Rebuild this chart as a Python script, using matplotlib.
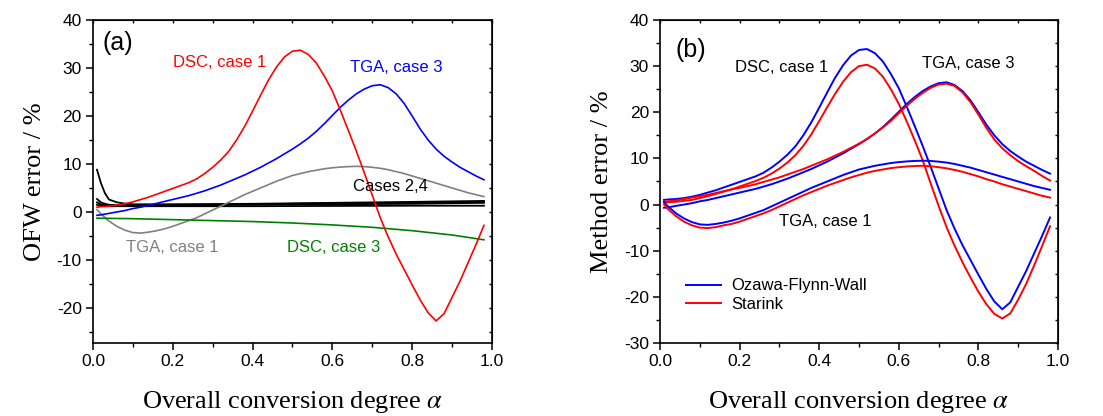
import numpy as np
import matplotlib
matplotlib.use("Agg")
import matplotlib.pyplot as plt
from matplotlib.ticker import MultipleLocator

plt.rcParams['font.family'] = ['Liberation Sans', 'DejaVu Sans']
plt.rcParams['mathtext.fontset'] = 'stix'
plt.rcParams['axes.unicode_minus'] = False

# conversion degree grid
alpha = [0.01, 0.02, 0.04, 0.06, 0.08, 0.10, 0.12, 0.14, 0.16, 0.18,
         0.20, 0.22, 0.24, 0.26, 0.28, 0.30, 0.32, 0.34, 0.36, 0.38,
         0.40, 0.42, 0.44, 0.46, 0.48, 0.50, 0.52, 0.54, 0.56, 0.58,
         0.60, 0.62, 0.64, 0.66, 0.68, 0.70, 0.72, 0.74, 0.76, 0.78,
         0.80, 0.82, 0.84, 0.86, 0.88, 0.90, 0.92, 0.94, 0.96, 0.98]

# Ozawa-Flynn-Wall errors (%)
ofw_dsc1 = [1.0, 1.1, 1.2, 1.4, 1.7, 2.1, 2.6, 3.1, 3.7, 4.3,
            4.9, 5.5, 6.1, 6.9, 8.0, 9.3, 10.8, 12.6, 15.0, 17.8,
            21.0, 24.3, 27.5, 30.2, 32.3, 33.5, 33.7, 32.8, 31.0, 28.3,
            25.2, 21.2, 17.0, 12.7, 8.2, 3.5, -1.2, -5.2, -8.8, -12.0,
            -15.2, -18.3, -21.0, -22.7, -21.2, -17.8, -14.4, -10.6, -6.8, -2.8]
ofw_tga3 = [-0.7, -0.6, -0.3, 0.0, 0.3, 0.7, 1.0, 1.4, 1.8, 2.2,
            2.6, 3.0, 3.4, 3.9, 4.4, 5.0, 5.6, 6.3, 7.0, 7.7,
            8.5, 9.3, 10.2, 11.1, 12.1, 13.1, 14.2, 15.4, 16.8, 18.4,
            20.1, 21.8, 23.3, 24.6, 25.6, 26.3, 26.5, 25.9, 24.6, 22.6,
            20.0, 17.3, 15.0, 13.1, 11.6, 10.4, 9.3, 8.4, 7.5, 6.7]
ofw_tga1 = [0.5, -0.4, -1.9, -3.0, -3.8, -4.3, -4.4, -4.2, -3.9, -3.5,
            -3.0, -2.4, -1.8, -1.2, -0.4, 0.4, 1.2, 2.0, 2.8, 3.6,
            4.3, 5.0, 5.7, 6.4, 7.0, 7.6, 8.0, 8.4, 8.7, 9.0,
            9.2, 9.35, 9.45, 9.5, 9.45, 9.3, 9.1, 8.8, 8.4, 8.0,
            7.5, 7.0, 6.5, 6.0, 5.5, 5.0, 4.5, 4.0, 3.6, 3.2]

# Starink errors (%)
st_dsc1 = [0.5, 0.5, 0.6, 0.8, 1.0, 1.4, 1.8, 2.3, 2.8, 3.3,
           3.9, 4.5, 5.1, 5.8, 6.7, 7.8, 9.1, 10.7, 12.7, 15.2,
           18.1, 21.1, 24.0, 26.6, 28.7, 30.0, 30.3, 29.5, 27.7, 25.0,
           21.8, 18.0, 13.9, 9.6, 4.6, -0.3, -4.9, -8.9, -12.5, -15.8,
           -18.9, -21.6, -23.7, -24.7, -23.6, -20.6, -17.2, -13.2, -9.0, -4.7]
st_tga3 = [0.6, 0.7, 0.9, 1.2, 1.5, 1.8, 2.1, 2.5, 2.9, 3.3,
           3.6, 4.0, 4.4, 4.9, 5.4, 5.9, 6.5, 7.1, 7.7, 8.4,
           9.1, 9.8, 10.6, 11.4, 12.3, 13.2, 14.2, 15.4, 16.7, 18.1,
           19.8, 21.4, 22.9, 24.2, 25.3, 26.0, 26.2, 25.7, 24.3, 22.2,
           19.5, 16.6, 14.1, 12.2, 10.7, 9.4, 8.3, 7.3, 6.2, 5.2]
st_tga1 = [0.0, -1.0, -2.5, -3.7, -4.5, -5.0, -5.1, -4.9, -4.5, -4.2,
           -3.7, -3.1, -2.5, -1.9, -1.2, -0.4, 0.4, 1.2, 2.0, 2.7,
           3.4, 4.1, 4.7, 5.3, 5.9, 6.4, 6.9, 7.3, 7.6, 7.9,
           8.1, 8.25, 8.35, 8.4, 8.3, 8.1, 7.85, 7.5, 7.1, 6.6,
           6.1, 5.5, 5.0, 4.4, 3.9, 3.4, 2.9, 2.4, 1.9, 1.5]

# DSC case 3 (OFW)
dsc3_alpha = [0.01, 0.1, 0.2, 0.3, 0.4, 0.5, 0.6, 0.7, 0.8, 0.9, 0.98]
ofw_dsc3 = [-1.3, -1.4, -1.6, -1.8, -2.0, -2.3, -2.7, -3.2, -3.9, -4.8, -5.8]

# cases 2 and 4 (OFW)
black_alpha = [0.01, 0.02, 0.03, 0.04, 0.06, 0.08, 0.10, 0.2, 0.4, 0.6, 0.8, 0.98]
case_a = [8.8, 6.0, 3.9, 2.6, 2.0, 1.75, 1.6, 1.6, 1.7, 1.9, 2.1, 2.3]
case_b = [2.7, 2.0, 1.7, 1.5, 1.4, 1.4, 1.4, 1.5, 1.6, 1.8, 1.9, 2.1]
case_c = [2.0, 1.6, 1.4, 1.3, 1.3, 1.3, 1.3, 1.4, 1.5, 1.6, 1.7, 1.9]
case_d = [1.5, 1.3, 1.2, 1.2, 1.2, 1.2, 1.2, 1.2, 1.2, 1.25, 1.3, 1.3]

RED, BLUE, GRAY, GREEN = '#ff0000', '#0000ff', '#808080', '#008000'
serif = ['Liberation Serif', 'DejaVu Serif']

fig = plt.figure(figsize=(11.03, 4.16), dpi=100)
ax1 = fig.add_axes([0.0843, 0.1755, 0.3617, 0.7765])
ax2 = fig.add_axes([0.5984, 0.1755, 0.3608, 0.7765])


def style(ax, ylim, ylabel):
    ax.set_xlim(0, 1)
    ax.set_ylim(*ylim)
    ax.xaxis.set_major_locator(MultipleLocator(0.2))
    ax.xaxis.set_minor_locator(MultipleLocator(0.1))
    ax.yaxis.set_major_locator(MultipleLocator(10))
    ax.yaxis.set_minor_locator(MultipleLocator(5))
    ax.xaxis.set_major_formatter(matplotlib.ticker.FormatStrFormatter('%.1f'))
    ax.tick_params(which='major', direction='out', length=5, width=1.1, labelsize=12.5, pad=3)
    ax.tick_params(which='minor', direction='out', length=3, width=1.0)
    for s in ax.spines.values():
        s.set_linewidth(1.2)
    # small inward ticks on top and right
    top = ax.secondary_xaxis('top')
    top.xaxis.set_major_locator(MultipleLocator(0.2))
    top.xaxis.set_minor_locator(MultipleLocator(0.1))
    top.tick_params(which='both', direction='in', length=2.5, width=1.0, labeltop=False)
    right = ax.secondary_yaxis('right')
    right.yaxis.set_major_locator(MultipleLocator(10))
    right.yaxis.set_minor_locator(MultipleLocator(5))
    right.tick_params(which='both', direction='in', length=2.5, width=1.0, labelright=False)
    ax.set_xlabel('Overall conversion degree $\\alpha$', family=serif, fontsize=19, labelpad=14)
    ax.set_ylabel(ylabel, family=serif, fontsize=19, labelpad=8)


# (a) OFW error
lw = 1.2
for ys in (case_d, case_c, case_b, case_a):
    ax1.plot(black_alpha, ys, color='black', lw=1.3)
ax1.plot(alpha, ofw_tga1, color=GRAY, lw=lw)
ax1.plot(dsc3_alpha, ofw_dsc3, color=GREEN, lw=lw)
ax1.plot(alpha, ofw_tga3, color=BLUE, lw=lw)
ax1.plot(alpha, ofw_dsc1, color=RED, lw=lw)
style(ax1, (-27.3, 40), 'OFW error / %')

ax1.text(0.025, 35.2, '(a)', fontsize=18, va='center')
ax1.text(0.20, 31.2, 'DSC, case 1', color=RED, fontsize=12, va='center')
ax1.text(0.644, 30.0, 'TGA, case 3', color=BLUE, fontsize=12, va='center')
ax1.text(0.652, 5.2, 'Cases 2,4', color='black', fontsize=12, va='center')
ax1.text(0.083, -7.5, 'TGA, case 1', color=GRAY, fontsize=12, va='center')
ax1.text(0.486, -7.5, 'DSC, case 3', color=GREEN, fontsize=12, va='center')

# (b) method comparison
lw2 = 1.4
ax2.plot(alpha, ofw_dsc1, color=BLUE, lw=lw2, label='Ozawa-Flynn-Wall')
ax2.plot(alpha, st_dsc1, color=RED, lw=lw2, label='Starink')
ax2.plot(alpha, ofw_tga3, color=BLUE, lw=lw2)
ax2.plot(alpha, st_tga3, color=RED, lw=lw2)
ax2.plot(alpha, ofw_tga1, color=BLUE, lw=lw2)
ax2.plot(alpha, st_tga1, color=RED, lw=lw2)
style(ax2, (-30, 40), 'Method error / %')

ax2.text(0.038, 33.5, '(b)', fontsize=18, va='center')
ax2.text(0.188, 29.8, 'DSC, case 1', fontsize=12, va='center')
ax2.text(0.658, 30.6, 'TGA, case 3', fontsize=12, va='center')
ax2.text(0.30, -3.7, 'TGA, case 1', fontsize=12, va='center')

ax2.legend(loc='upper left', bbox_to_anchor=(0.065, 0.20), frameon=False, fontsize=12,
           handlelength=2.1, handletextpad=0.6, labelspacing=0.2,
           borderpad=0, borderaxespad=0)

fig.savefig('out.png', dpi=100)
